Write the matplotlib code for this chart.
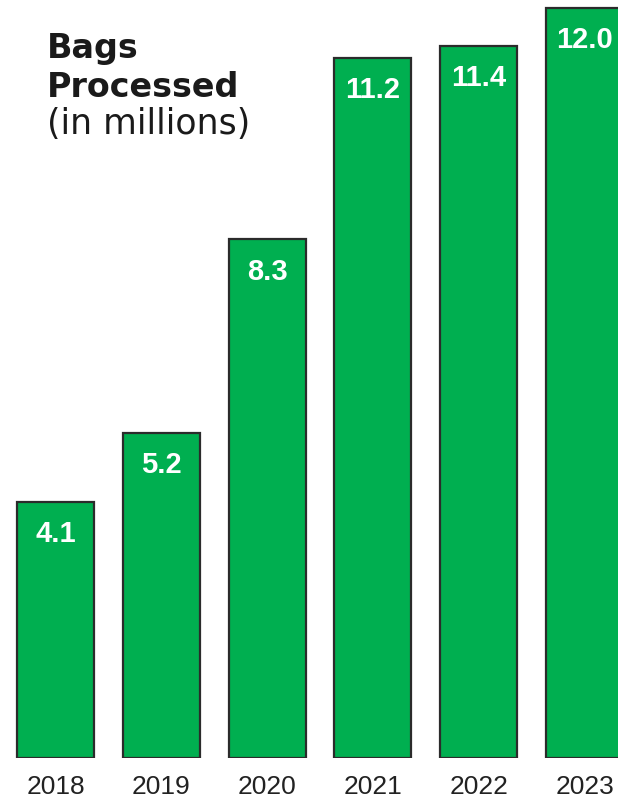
import matplotlib.pyplot as plt

years = ['2018', '2019', '2020', '2021', '2022', '2023']
bags = [4.1, 5.2, 8.3, 11.2, 11.4, 12.0]

W, H = 618, 799
fig = plt.figure(figsize=(W / 100, H / 100), dpi=100)

# axes bottom sits on the bar baseline (px from top: 758)
base_px = 758
ax = fig.add_axes([0, (H - base_px) / H, 1, base_px / H])
ax.set_xlim(-0.5246, 5.3166)
ax.set_ylim(0, base_px / 62.5)

x = range(len(years))
ax.bar(x, bags, width=0.728, color='#00AF50', edgecolor='#2b2b2b', linewidth=1.6)

for xi, v in zip(x, bags):
    ax.annotate(f'{v:.1f}', (xi, v), xytext=(0, -29), textcoords='offset points',
                ha='center', va='baseline', color='white', fontsize=21,
                fontweight='bold', family=['Liberation Sans', 'DejaVu Sans'])

ax.set_xticks(list(x))
ax.set_xticklabels(years, fontsize=19, color='#222222',
                   family=['Liberation Sans', 'DejaVu Sans'])
ax.tick_params(axis='x', length=0, pad=12)
ax.set_yticks([])
for s in ax.spines.values():
    s.set_visible(False)
ax.patch.set_visible(False)

# title block, top left
tx = 47 / W
fig.text(tx, 1 - 58 / H, 'Bags', fontsize=24, fontweight='bold', color='#1a1a1a', va='baseline')
fig.text(tx, 1 - 97 / H, 'Processed', fontsize=24, fontweight='bold', color='#1a1a1a', va='baseline')
fig.text(tx, 1 - 134 / H, '(in millions)', fontsize=25, color='#1a1a1a', va='baseline')

fig.savefig('out.png', dpi=100)
